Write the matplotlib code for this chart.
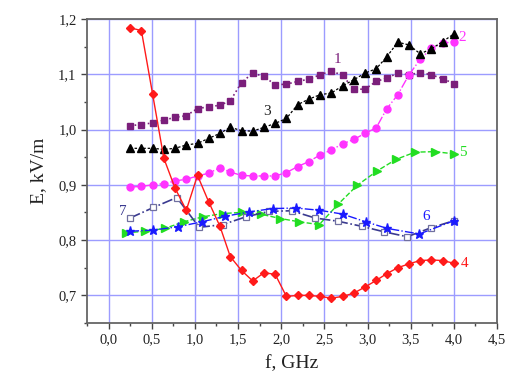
import numpy as np
import matplotlib
matplotlib.use("Agg")
from matplotlib import pyplot as plt
from matplotlib.ticker import MultipleLocator, FuncFormatter

plt.rcParams['font.family'] = ['Liberation Serif', 'DejaVu Serif']

# curve 1 - purple squares
f1 = [0.25, 0.38, 0.51, 0.64, 0.77, 0.9, 1.03, 1.16, 1.29, 1.41, 1.54, 1.67, 1.8, 1.93,
      2.06, 2.19, 2.32, 2.45, 2.58, 2.71, 2.84, 2.97, 3.1, 3.22, 3.35, 3.48, 3.61, 3.74, 3.87, 4.0]
e1 = [1.007, 1.009, 1.012, 1.017, 1.022, 1.025, 1.038, 1.041, 1.044, 1.052, 1.085, 1.102,
      1.096, 1.081, 1.082, 1.087, 1.091, 1.099, 1.106, 1.098, 1.073, 1.073, 1.087, 1.093,
      1.102, 1.099, 1.103, 1.099, 1.092, 1.083]
# curve 2 - magenta circles
e2 = [0.896, 0.897, 0.900, 0.902, 0.907, 0.910, 0.916, 0.921, 0.931, 0.923, 0.917, 0.916,
      0.916, 0.916, 0.922, 0.933, 0.942, 0.954, 0.963, 0.974, 0.982, 0.993, 1.003, 1.037,
      1.063, 1.099, 1.127, 1.147, 1.156, 1.159]
# curve 3 - black triangles
e3 = [0.966, 0.966, 0.966, 0.964, 0.966, 0.972, 0.975, 0.984, 0.993, 1.004, 0.998, 0.997,
      1.004, 1.011, 1.020, 1.045, 1.055, 1.063, 1.066, 1.079, 1.090, 1.102, 1.110, 1.131,
      1.158, 1.153, 1.137, 1.146, 1.159, 1.173]
# curve 4 - red diamonds
e4 = [1.184, 1.179, 1.064, 0.948, 0.894, 0.854, 0.917, 0.869, 0.825, 0.770, 0.745, 0.726,
      0.741, 0.738, 0.698, 0.700, 0.700, 0.698, 0.695, 0.698, 0.704, 0.715, 0.727, 0.739,
      0.750, 0.757, 0.763, 0.764, 0.763, 0.758]
# curve 5 - green triangles
f5 = [0.2, 0.42, 0.65, 0.87, 1.09, 1.32, 1.54, 1.76, 1.99, 2.21, 2.44, 2.66, 2.88, 3.11,
      3.33, 3.55, 3.78, 4.0]
e5 = [0.813, 0.816, 0.821, 0.833, 0.842, 0.848, 0.850, 0.847, 0.839, 0.833, 0.828, 0.865,
      0.899, 0.925, 0.946, 0.959, 0.960, 0.956]
# curve 6 - blue stars
f6 = [0.25, 0.51, 0.8, 1.08, 1.35, 1.63, 1.9, 2.17, 2.44, 2.71, 2.98, 3.23, 3.6, 4.0]
e6 = [0.816, 0.818, 0.824, 0.833, 0.843, 0.851, 0.857, 0.858, 0.854, 0.847, 0.833, 0.821,
      0.811, 0.835]
# curve 7 - open squares
f7 = [0.25, 0.52, 0.79, 1.05, 1.32, 1.59, 1.86, 2.12, 2.39, 2.66, 2.93, 3.19, 3.46, 3.73, 4.0]
e7 = [0.840, 0.859, 0.877, 0.823, 0.828, 0.842, 0.852, 0.853, 0.840, 0.834, 0.825, 0.815,
      0.806, 0.822, 0.835]

fig = plt.figure(figsize=(5.1, 3.87), dpi=100)
ax = fig.add_axes([0.1706, 0.1654, 0.804, 0.7856])

ax.grid(True, which='major', color='#9c9cff', linewidth=1.0, zorder=0)
ax.set_axisbelow(True)

ax.plot(f1, e1, ls=':', lw=1.2, color='#7b1f7b', marker='s', ms=4.3, zorder=3)
ax.plot(f1, e2, ls='-.', lw=1.0, color='#ff33ff', marker='o', ms=5, zorder=3)
ax.plot(f1, e3, ls='--', lw=0.9, color='black', marker='^', ms=5.5, zorder=3, dashes=(2, 1.5))
ax.plot(f1, e4, ls='-', lw=1.0, color='#ff1a1a', marker='D', ms=4.5, zorder=4)
ax.plot(f5, e5, ls='--', lw=1.0, color='#22dd22', marker='>', ms=5.5, zorder=3)
ax.plot(f7, e7, ls='-.', lw=1.2, color='#3a3a90', marker='s', ms=4.5, mfc='white',
        mec='#7070a0', mew=0.9, zorder=3)
ax.plot(f6, e6, ls='-.', lw=1.0, color='#1a1aff', marker='*', ms=6.5, zorder=3)

lbl = dict(fontsize=11, ha='center', va='center')
ax.text(2.65, 1.127, '1', color='#7b1f7b', **lbl)
ax.text(4.1, 1.166, '2', color='#ff33ff', **lbl)
ax.text(1.83, 1.032, '3', color='#222222', **lbl)
ax.text(4.12, 0.757, '4', color='#ff1a1a', **lbl)
ax.text(4.1, 0.958, '5', color='#22dd22', **lbl)
ax.text(3.68, 0.843, '6', color='#1a1aff', **lbl)
ax.text(0.16, 0.852, '7', color='#3a3a90', **lbl)

ax.set_xlim(-0.25, 4.5)
ax.set_ylim(0.65, 1.2)
ax.xaxis.set_major_locator(MultipleLocator(0.5))
ax.xaxis.set_minor_locator(MultipleLocator(0.25))
ax.yaxis.set_major_locator(MultipleLocator(0.1))
ax.yaxis.set_minor_locator(MultipleLocator(0.05))
comma = FuncFormatter(lambda v, p: f"{v:.1f}".replace('.', ','))
ax.xaxis.set_major_formatter(comma)
ax.yaxis.set_major_formatter(comma)
ax.tick_params(which='major', length=4, width=1, colors='#444444', labelcolor='#222222',
               labelsize=10.5)
ax.tick_params(which='minor', length=2.5, width=1, colors='#444444')
for s in ax.spines.values():
    s.set_color('#666666')
    s.set_linewidth(1.3)

ax.set_xlabel('f, GHz', fontsize=14, color='#222222', labelpad=6)
ax.set_ylabel('E, kV/m', fontsize=14, color='#222222', labelpad=8)

fig.savefig('out.png', dpi=100)
